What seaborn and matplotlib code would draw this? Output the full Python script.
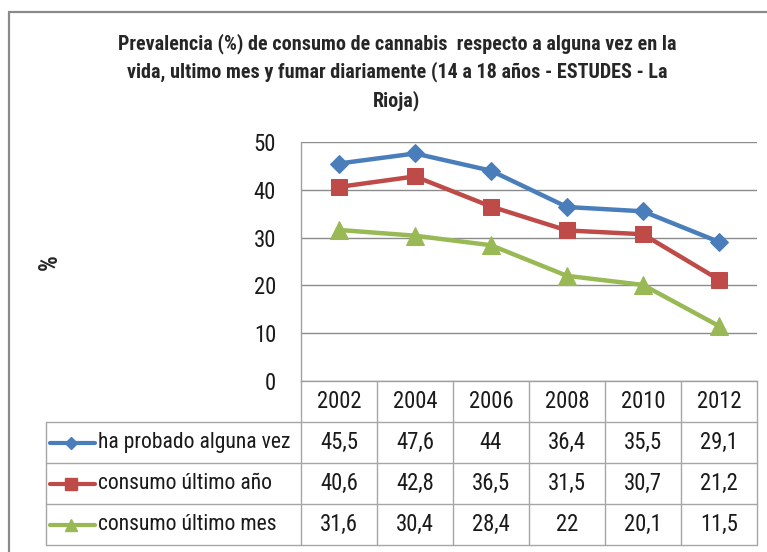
import numpy as np
import pandas as pd
import matplotlib
matplotlib.use('Agg')
import matplotlib.pyplot as plt
import matplotlib.transforms as mtransforms
from matplotlib.patches import Rectangle
from matplotlib import font_manager
import seaborn as sns

# Data
years = ['2002', '2004', '2006', '2008', '2010', '2012']
series = ['ha probado alguna vez', 'consumo último año', 'consumo último mes']
alguna_vez = [45.5, 47.6, 44, 36.4, 35.5, 29.1]
ultimo_ano = [40.6, 42.8, 36.5, 31.5, 30.7, 21.2]
ultimo_mes = [31.6, 30.4, 28.4, 22, 20.1, 11.5]

title_lines = ['Prevalencia (%) de consumo de cannabis  respecto a alguna vez en la',
               'vida, ultimo mes y fumar diariamente (14 a 18 años - ESTUDES - La',
               'Rioja)']

colors = ['#4A7EBB', '#BE4B48', '#98B954']
markers = ['D', 's', '^']
marker_sizes = [9, 11.5, 12.5]

sns.set_style('white')
# pick a narrow face if one is installed
installed = {f.name for f in font_manager.fontManager.ttflist}
family = 'DejaVu Sans'
for name in ['Liberation Sans Narrow', 'Roboto Condensed', 'Open Sans Condensed',
             'Noto Sans Condensed', 'Liberation Sans', 'Roboto']:
    if name in installed:
        family = name
        break
plt.rcParams['font.family'] = [family, 'DejaVu Sans']

values = [alguna_vez, ultimo_ano, ultimo_mes]
df = pd.DataFrame({
    'pos': np.tile(np.arange(len(years)), len(series)),
    'valor': np.concatenate(values),
    'serie': np.repeat(series, len(years)),
})

W, H = 767, 552
fig = plt.figure(figsize=(W / 100, H / 100), dpi=100)
renderer = fig.canvas.get_renderer()


def fit_size(s, target_px, weight='normal'):
    # font size that makes the string about target_px wide
    t = fig.text(0, 0, s, fontsize=16, fontweight=weight)
    w = t.get_window_extent(renderer).width
    t.remove()
    return 16 * target_px / w


body_fs = min(fit_size('ha probado alguna vez', 193), 16.5)
tick_fs = min(fit_size('2002', 45), 16.5)
title_fs = min(fit_size(title_lines[0], 598, 'bold'), 14.5)

ax = fig.add_axes([301 / W, 1 - 381 / H, 456 / W, 239 / H])

sns.lineplot(data=df, x='pos', y='valor', hue='serie', style='serie',
             hue_order=series, style_order=series, palette=colors,
             markers=markers, dashes=False, linewidth=3.2, legend=False,
             ax=ax, clip_on=False)
for line, c, ms in zip(ax.lines, colors, marker_sizes):
    line.set_markersize(ms)
    line.set_markeredgecolor(c)
    line.set_markerfacecolor(c)

# Axes styling
ax.set_xlim(-0.5, len(years) - 0.5)
ax.set_ylim(0, 50)
ax.set_yticks(range(0, 51, 10))
ax.set_xticks([])
ax.set_xlabel('')
ax.set_ylabel('')
ax.yaxis.grid(True, color='#8C8C8C', lw=1)
ax.set_axisbelow(True)
for s in ['top', 'right']:
    ax.spines[s].set_visible(False)
for s in ['left', 'bottom']:
    ax.spines[s].set_color('#A0A0A0')
    ax.spines[s].set_linewidth(1)
ax.tick_params(axis='y', length=0, pad=18, labelsize=tick_fs, labelcolor='#1A1A1A')

# Data table under the chart
trans = mtransforms.blended_transform_factory(ax.transData, ax.transAxes)
h = 41 / 239
n = len(series)
left = (46 - 301) / 456
grid_kw = dict(color='#A6A6A6', lw=1, clip_on=False)

for k in range(len(years) + 1):
    ax.plot([k - 0.5, k - 0.5], [0, -(n + 1) * h], transform=trans, **grid_kw)
for r in range(1, n + 2):
    ax.plot([left, 1], [-r * h, -r * h], transform=ax.transAxes, **grid_kw)
ax.plot([left, left], [-h, -(n + 1) * h], transform=ax.transAxes, **grid_kw)

for i, yr in enumerate(years):
    ax.text(i, -h / 2, yr, transform=trans, ha='center', va='center',
            fontsize=tick_fs, color='#1A1A1A')


def fmt(v):
    return f'{v:g}'.replace('.', ',')


key_x0 = (50 - 301) / 456
key_x1 = (95 - 301) / 456
key_xm = (71 - 301) / 456
text_x = (98 - 301) / 456
for r, (name, vals, c, m, ms) in enumerate(zip(series, values, colors, markers, marker_sizes)):
    yc = -(r + 1.5) * h
    for i, v in enumerate(vals):
        ax.text(i, yc, fmt(v), transform=trans, ha='center', va='center',
                fontsize=tick_fs, color='#1A1A1A')
    ax.plot([key_x0, key_x1], [yc, yc], transform=ax.transAxes, color=c,
            lw=3, clip_on=False)
    ax.plot([key_xm], [yc], marker=m, ms=ms * 0.7, color=c, mec=c,
            transform=ax.transAxes, clip_on=False)
    ax.text(text_x, yc, name, transform=ax.transAxes, ha='left', va='center',
            fontsize=body_fs, color='#1A1A1A')

# Titles and labels
fig.text(397 / W, 1 - 33 / H, '\n'.join(title_lines), ha='center', va='top',
         fontsize=title_fs, fontweight='bold', linespacing=1.55 * 14 / title_fs)
fig.text(50 / W, 1 - 262 / H, '%', rotation=90, ha='center', va='center',
         fontsize=18, fontweight='bold')

# Chart border
fig.patches.append(Rectangle((9 / W, -0.1), 1.2, 1 - 12 / H + 0.1,
                             transform=fig.transFigure, fill=False,
                             ec='#8A8A8A', lw=1.6))

fig.savefig('out.png', dpi=100)
